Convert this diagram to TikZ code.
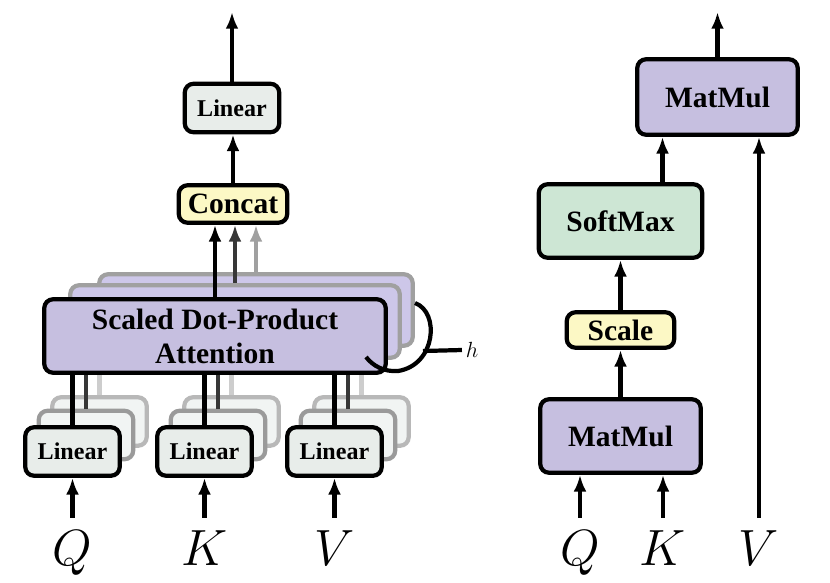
\RequirePackage{fix-cm}
\documentclass[tikz,border=0pt]{standalone}
\usepackage{fontspec}
\setmainfont{Liberation Serif}
\usetikzlibrary{arrows.meta,calc}

\definecolor{attfill}{RGB}{198,191,224}
\definecolor{attback}{RGB}{205,199,233}
\definecolor{linfill}{RGB}{232,237,234}
\definecolor{linback}{RGB}{241,244,243}
\definecolor{catfill}{RGB}{252,248,197}
\definecolor{smfill}{RGB}{205,230,212}
\definecolor{darkline}{RGB}{55,55,55}
\definecolor{greyline}{RGB}{160,160,160}
\definecolor{paleline}{RGB}{205,205,205}

\tikzset{
  block/.style={draw, line width=2.4pt, rounded corners=5pt, inner sep=0pt,
    font=\bfseries\fontsize{16.8}{19.3}\selectfont, align=center},
  linbox/.style={block, fill=linfill, minimum width=1.89cm, minimum height=0.97cm,
    font=\bfseries\fontsize{13.7}{16}\selectfont},
  linghost/.style={linbox, fill=linback, draw=paleline!90!black},
  attbox/.style={block, fill=attfill},
  attghost/.style={block, fill=attback, draw=greyline},
  arr/.style={line width=2.4pt, -{Latex[length=9.5pt,width=7.3pt]}},
  wire/.style={line width=2.4pt},
  sym/.style={anchor=base, inner sep=0pt, inner ysep=7pt, font=\fontsize{29}{32}\selectfont},
}

\begin{document}
\begin{tikzpicture}[x=0.02cm,y=-0.02cm]
  \useasboundingbox (0,0) rectangle (830,582);

  % Multi-head attention: heads at the back
  \node[attghost, minimum width=6.27cm, minimum height=1.43cm] (att3) at (256,310) {};
  \foreach \n/\x in {q/72.5,k/204.5,v/334.5}
    \node[linghost] (\n3) at (\x+27,421.5) {};
  \foreach \n in {q,k,v}
    \draw[wire, paleline] (\n3.north) -- (\n3.north |- att3.south);

  \node[attghost, minimum width=6.59cm, minimum height=1.45cm] (att2) at (235,321.5) {};
  \foreach \n/\x in {q/72.5,k/204.5,v/334.5}
    \node[linghost, draw=paleline!75!black] (\n2) at (\x+13.5,435) {};
  \foreach \n in {q,k,v}
    \draw[wire, darkline] (\n2.north) -- (\n2.north |- att2.south);

  % Front head
  \node[attbox, minimum width=6.83cm, minimum height=1.47cm] (att1) at (215,336)
    {Scaled Dot-Product\\Attention};
  \foreach \n/\x/\s in {q/72.5/Q,k/204.5/K,v/334.5/V} {
    \node[linbox] (\n1) at (\x,451.5) {Linear};
    \node[sym] (\n in) at (\x,565) {$\s$};
    \draw[wire] (\n1.north) -- (\n1.north |- att1.south);
    \draw[arr] (\n in.north) -- (\n1.south);
  }

  % h copies
  \draw[wire] (415,303) .. controls (440,312) and (436,365) .. (398,371)
    .. controls (384,372) and (373,366) .. (366,357);
  \node[font=\fontsize{12.5}{14}\selectfont, inner sep=2pt] (hlbl) at (472,350) {$h$};
  \coordinate (hfoot) at (423,351);
  \draw[wire] (hfoot) -- (hlbl.west);

  % Concat and output
  \node[block, fill=catfill, minimum width=2.17cm, minimum height=0.75cm] (concat) at (233,204) {Concat};
  \node[linbox] (linT) at (232,108) {Linear};
  \coordinate (outL) at (232,12);
  \draw[arr] (att1.north) -- (att1.north |- concat.south);
  \draw[arr, darkline] (att2.north) -- (att2.north |- concat.south);
  \draw[arr, greyline] (att3.north) -- (att3.north |- concat.south);
  \draw[arr] (concat.north) -- (concat.north |- linT.south);
  \draw[arr] (linT.north) -- (outL);

  % Scaled dot-product attention
  \node[block, fill=attfill, minimum width=3.21cm, minimum height=1.47cm] (mm1) at (620.5,436) {MatMul};
  \node[block, fill=catfill, minimum width=2.15cm, minimum height=0.71cm] (scale) at (620.5,330) {Scale};
  \node[block, fill=smfill, minimum width=3.27cm, minimum height=1.47cm] (sm) at (620.5,221) {SoftMax};
  \node[block, fill=attfill, minimum width=3.21cm, minimum height=1.51cm] (mm2) at (717.5,97) {MatMul};
  \node[sym] (qR) at (580,565) {$Q$};
  \node[sym] (kR) at (663,565) {$K$};
  \node[sym] (vR) at (759,565) {$V$};
  \coordinate (smout) at ($(sm.north)+(42,0)$);
  \coordinate (outR) at (717.5,12);

  \draw[arr] (qR.north) -- (qR.north |- mm1.south);
  \draw[arr] (kR.north) -- (kR.north |- mm1.south);
  \draw[arr] (vR.north) -- (vR.north |- mm2.south);
  \draw[arr] (mm1) -- (scale);
  \draw[arr] (scale) -- (sm);
  \draw[arr] (smout) -- (smout |- mm2.south);
  \draw[arr] (mm2.north) -- (outR);

\end{tikzpicture}
\end{document}
